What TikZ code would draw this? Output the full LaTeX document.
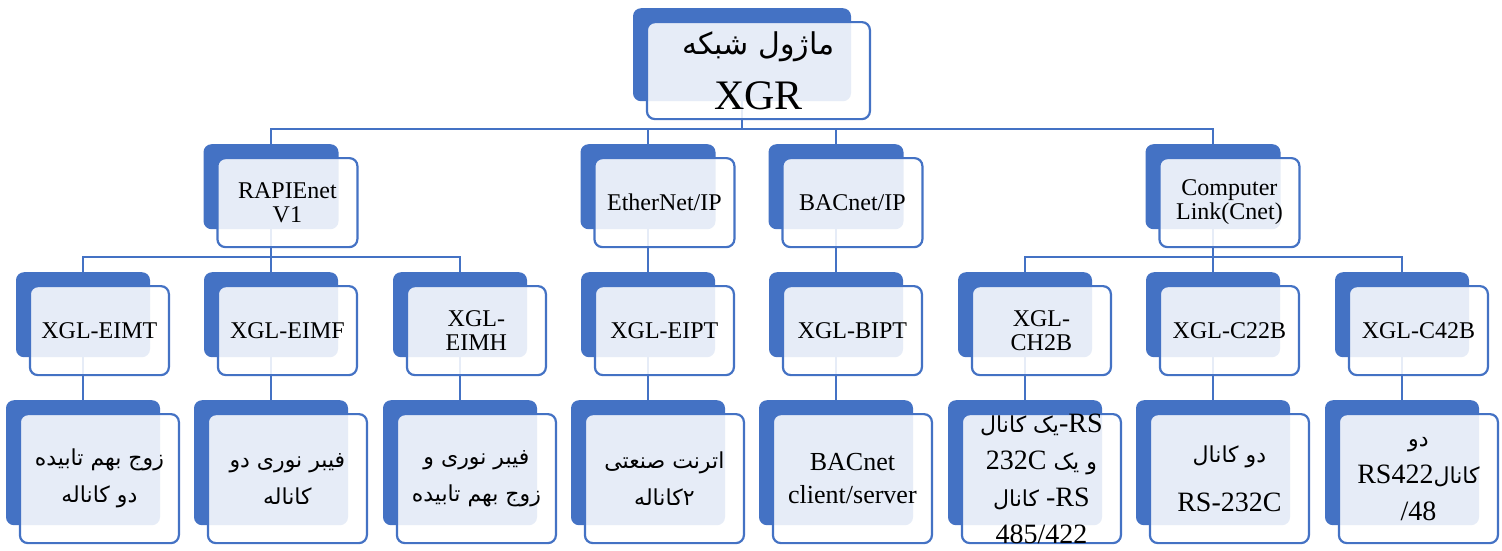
\documentclass[tikz,border=0pt]{standalone}
\usepackage{fontspec}
\setmainfont{Liberation Serif}
\newfontfamily\farsi[Script=Arabic]{DejaVu Sans}
\TeXXeTstate=1
\usetikzlibrary{positioning,calc}
\pgfdeclarelayer{bg}
\pgfsetlayers{bg,main}
\definecolor{smartblue}{HTML}{4472C4}
\newcommand{\fa}[2][22]{{\farsi\fontsize{#1}{37}\selectfont\beginR #2\endR}}
% back box, front box and the text on it
\newcommand{\smartbox}[7][]{%
  \node[backbox, anchor=north, minimum width=#5pt, minimum height=#6pt] (#2b) at (#3,#4) {};
  \node[frontbox, minimum width=#5pt+5pt, minimum height=#6pt+4pt] (#2) at ([shift={(13pt,-13pt)}]#2b.north west) {};
  \node[boxtext, #1] (#2t) at (#2.center) {#7};
}
\tikzset{
  backbox/.style={fill=smartblue, rounded corners=8pt, inner sep=0pt},
  frontbox/.style={draw=smartblue, line width=2.2pt, fill=white, fill opacity=0.87, rounded corners=8pt, inner sep=0pt, anchor=north west},
  boxtext/.style={align=center, inner sep=0pt, text=black},
  topfont/.style={font=\fontsize{42}{55}\selectfont},
  midfont/.style={font=\fontsize{24}{24}\selectfont},
  lowfont/.style={font=\fontsize{28}{37}\selectfont},
  link/.style={draw=smartblue, line width=2pt},
}
\begin{document}
\begin{tikzpicture}[x=1pt, y=-1pt]
\useasboundingbox (0,0) rectangle (1502,550);
% root
\smartbox[topfont]{xgr}{742}{8}{218}{93}{\fa[30]{ماژول شبکه}\\XGR}
% protocols
\smartbox[midfont]{rap}{271}{144}{135}{85}{RAPIEnet\\V1}
\smartbox[midfont]{eth}{648}{144}{135}{85}{EtherNet/IP}
\smartbox[midfont]{bac}{836}{144}{135}{85}{BACnet/IP}
\smartbox[midfont]{cnet}{1213}{144}{135}{85}{Computer\\Link(Cnet)}
% modules
\smartbox[midfont]{eimt}{83}{272}{134}{85}{XGL-EIMT}
\smartbox[midfont]{eimf}{271}{272}{134}{85}{XGL-EIMF}
\smartbox[midfont]{eimh}{460}{272}{134}{85}{XGL-\\EIMH}
\smartbox[midfont]{eipt}{648}{272}{134}{85}{XGL-EIPT}
\smartbox[midfont]{bipt}{836}{272}{134}{85}{XGL-BIPT}
\smartbox[midfont]{chtb}{1025}{272}{134}{85}{XGL-\\CH2B}
\smartbox[midfont]{ctt}{1213}{272}{134}{85}{XGL-C22B}
\smartbox[midfont]{cft}{1402}{272}{134}{85}{XGL-C42B}
% media
\smartbox[lowfont]{twp}{83}{400}{154}{125}{\fa{زوج بهم تابیده}\\\fa{دو کاناله}}
\smartbox[lowfont]{fib}{271}{400}{154}{125}{\fa{فیبر نوری دو}\\\fa{کاناله}}
\smartbox[lowfont]{fibtp}{460}{400}{154}{125}{\fa{فیبر نوری و}\\\fa{زوج بهم تابیده}}
\smartbox[lowfont]{ind}{648}{400}{154}{125}{\fa{اترنت صنعتی}\\\fa{۲کاناله}}
\smartbox[lowfont, font=\fontsize{26}{33}\selectfont]{cls}{836}{400}{154}{125}{BACnet\\client/server}
\smartbox[lowfont]{mix}{1025}{400}{154}{125}{\fa{یک کانال}-RS\\232C \fa{و یک}\\\fa{کانال} -RS\\485/422}
\smartbox[lowfont]{rstt}{1213}{400}{154}{125}{\fa{دو کانال}\\[12pt]RS-232C}
\smartbox[lowfont]{rsft}{1402}{400}{154}{125}{\fa{دو}\\RS422\fa{کانال}\\/48}
% connectors
\begin{pgfonlayer}{bg}
\path (xgrb.south) ++(0,28) coordinate (bus0);
\draw[link] (xgrb.south) -- (bus0);
\foreach \n in {rap,eth,bac,cnet} \draw[link] (bus0) -| (\n b.north);
\path (rapb.south) ++(0,28) coordinate (bus1);
\draw[link] (rapb.south) -- (bus1);
\foreach \n in {eimt,eimf,eimh} \draw[link] (bus1) -| (\n b.north);
\path (cnetb.south) ++(0,28) coordinate (bus2);
\draw[link] (cnetb.south) -- (bus2);
\foreach \n in {chtb,ctt,cft} \draw[link] (bus2) -| (\n b.north);
\draw[link] (ethb.south) -- (eiptb.north);
\draw[link] (bacb.south) -- (biptb.north);
\foreach \a/\b in {eimt/twp,eimf/fib,eimh/fibtp,eipt/ind,bipt/cls,chtb/mix,ctt/rstt,cft/rsft}
  \draw[link] (\a b.south) -- (\b b.north);
\end{pgfonlayer}
\end{tikzpicture}
\end{document}
